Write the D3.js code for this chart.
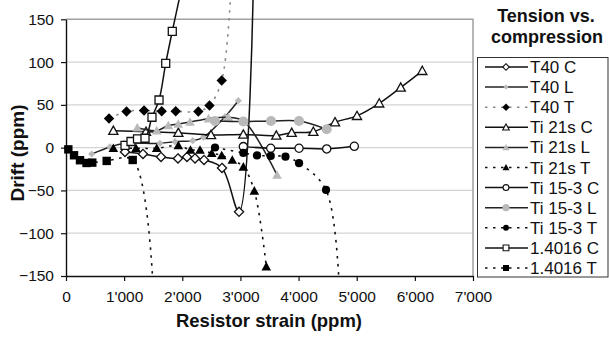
<!DOCTYPE html>
<html><head><meta charset="utf-8">
<script src="https://cdn.jsdelivr.net/npm/d3@7"></script>
<style>
body{margin:0;background:#fff;}
svg{display:block;font-family:"Liberation Sans",Arial,Helvetica,sans-serif;}
</style></head>
<body><svg id="c" width="609" height="337"></svg>
<script>
// ---- data (resistor strain ppm, drift ppm) ----
const seriesNames = ["T40 C","T40 L","T40 T","Ti 21s C","Ti 21s L","Ti 21s T","Ti 15-3 C","Ti 15-3 L","Ti 15-3 T","1.4016 C","1.4016 T"];
const T40_C = [[1015,-5],[1324,-7.4],[1634,-10.9],[1926,-12.6],[2081,-10.9],[2219,-12.6],[2374,-14.4],[2683,-23.7],[2976,-75],[3225,200]];
const T40_L = [[442,-7.4],[757,0.8],[998,4.9],[1617,5.1],[1875,7],[2179,8.2],[2362,12.1],[2735,36.2],[2963,54.9]];
const T40_T = [[740,34],[1041,42.3],[1342,43.4],[1646,42.5],[1887,42.5],[2276,42.3],[2468,49.3],[2678,78.4],[2840,190]];
const TI21_C = [[814,19.8],[1376,18.7],[1932,17.5],[2494,14.8],[3050,15.4],[3617,14.2],[3882,17.5],[4254,18.7],[4627,29.8],[5005,37.2],[5387,51.8],[5757,70.3],[6128,89.8]];
const TI21_L = [[1226,23.3],[1560,20],[1760,25.9],[1931,27.7],[2133,30],[2451,33.9],[2792,35.5],[3062,30.6],[3629,-31.9]];
const TI21_T = [[814,-0.7],[1204,-0.7],[1560,-0.7],[1932,2.6],[2141,-2.7],[2305,-2.7],[2506,-6.5],[2678,-9.1],[2860,-14.4],[3050,-22.5],[3239,-50.5],[3445,-139]];
const TI153_C = [[3050,1.2],[3521,-0.7],[4008,-0.7],[4484,-1.5],[4959,1.6]];
const TI153_L = [[2563,31.2],[3050,30.6],[3526,31.2],[4008,31.2],[4484,21.5]];
const TI153_T = [[2563,0.2],[3050,-6.2],[3285,-9.1],[3521,-9.7],[3775,-10.5],[4008,-18.2],[4472,-49.4],[4720,-200]];
const S14016_C = [[1015,2.6],[1118,7.2],[1230,10.2],[1359,11],[1479,35.5],[1600,55.7],[1715,98.5],[1828,136],[2000,190]];
const S14016_T = [[40,-2],[138,-8.9],[241,-14.7],[353,-17.9],[452,-17.5],[700,-15.5],[1147,-14.4],[1510,-180]];
// points beyond the axis range only continue the line; no marker is drawn there
const xTicks = [0,1000,2000,3000,4000,5000,6000,7000];
const yTicks = [-150,-100,-50,0,50,100,150];
const xTitle = "Resistor strain (ppm)";
const yTitle = "Drift (ppm)";
const legendTitle = ["Tension vs.","compression"];

const GREY = "#b9b9b9";
const styles = [
  {data:T40_C,  m:"diamond", fill:"#fff", stroke:"#111", s:4.6, dash:null, lc:"#111"},
  {data:T40_L,  m:"diamond", fill:GREY,  stroke:"none", s:3.6, dash:null, lc:"#222"},
  {data:T40_T,  m:"diamond", fill:"#000", stroke:"none", s:5.2, dash:"2.5,5.5", lc:"#8a8a8a"},
  {data:TI21_C, m:"triangle",fill:"#fff", stroke:"#111", s:4.6, dash:null, lc:"#111"},
  {data:TI21_L, m:"triangle",fill:GREY,  stroke:"none", s:4.8, dash:null, lc:"#222"},
  {data:TI21_T, m:"triangle",fill:"#000", stroke:"none", s:4.8, dash:"2.5,5.5", lc:"#111"},
  {data:TI153_C,m:"circle",  fill:"#fff", stroke:"#111", s:4.1, dash:null, lc:"#111"},
  {data:TI153_L,m:"circle",  fill:GREY,  stroke:"none", s:5.0, dash:null, lc:"#222"},
  {data:TI153_T,m:"circle",  fill:"#000", stroke:"none", s:4.1, dash:"2.5,5.5", lc:"#111"},
  {data:S14016_C,m:"square", fill:"#fff", stroke:"#111", s:4.0, dash:null, lc:"#111"},
  {data:S14016_T,m:"square", fill:"#000", stroke:"none", s:4.2, dash:"2.5,5.5", lc:"#111"}
];

const svg = d3.select("#c");
const x = d3.scaleLinear().domain([0,7000]).range([66,473]);
const y = d3.scaleLinear().domain([-150,150]).range([276,19.3]);

// gridlines
svg.append("g").selectAll("line").data(yTicks.filter(v=>v>-150 && v<150)).join("line")
  .attr("x1",x(0)).attr("x2",x(7000)).attr("y1",d=>y(d)).attr("y2",d=>y(d))
  .attr("stroke","#d4d4d4").attr("stroke-width",1.3);
// plot border top/right
svg.append("path").attr("d",`M${x(0)},${y(150)}H${x(7000)}V${y(-150)}`)
  .attr("fill","none").attr("stroke","#a0a0a0").attr("stroke-width",1.5);

// axes
const fmt = d => d===0 ? "0" : d3.format(",")(d).replace(/,/g,"'");
const xa = svg.append("g").attr("transform",`translate(0,${y(-150)})`)
  .call(d3.axisBottom(x).tickValues(xTicks).tickFormat(fmt).tickSize(5).tickPadding(9.5).tickSizeOuter(0));
const ya = svg.append("g").attr("transform",`translate(${x(0)},0)`)
  .call(d3.axisLeft(y).tickValues(yTicks).tickSize(5).tickPadding(7).tickSizeOuter(0));
[xa,ya].forEach(a=>{
  a.select(".domain").attr("stroke","#111").attr("stroke-width",1.4);
  a.selectAll(".tick line").attr("stroke","#111").attr("stroke-width",1.2);
  a.selectAll("text").attr("font-size",15.5).attr("fill","#111").attr("font-family",null);
});

// titles
svg.append("text").attr("x",269).attr("y",327).attr("text-anchor","middle")
  .attr("font-size",18.5).attr("font-weight","bold").attr("fill","#111").text(xTitle);
svg.append("text").attr("transform","translate(24,153) rotate(-90)").attr("text-anchor","middle")
  .attr("font-size",19).attr("font-weight","bold").attr("fill","#111").text(yTitle);

// clip so lines stop at the bottom axis
svg.append("clipPath").attr("id","clip").append("rect")
  .attr("x",0).attr("y",0).attr("width",609).attr("height",y(-150)+3);

function markerPath(m,s){
  if(m==="diamond") return `M0,${-s}L${s},0L0,${s}L${-s},0Z`;
  if(m==="triangle") return `M0,${-s}L${s},${s*0.8}L${-s},${s*0.8}Z`;
  if(m==="square") return `M${-s},${-s}H${s}V${s}H${-s}Z`;
  return d3.arc()({innerRadius:0,outerRadius:s,startAngle:0,endAngle:2*Math.PI});
}

const line = d3.line().x(d=>x(d[0])).y(d=>y(d[1])).curve(d3.curveCatmullRom.alpha(0.5));
const gLines = svg.append("g").attr("clip-path","url(#clip)");
styles.forEach(st=>{
  const g = gLines.append("g");
  g.append("path").attr("d",line(st.data)).attr("fill","none")
    .attr("stroke",st.lc).attr("stroke-width",st.dash?1.6:1.5)
    .attr("stroke-dasharray",st.dash);
  g.selectAll("path.m").data(st.data.filter(d=>d[1]>=-150 && d[1]<=150)).join("path").attr("class","m")
    .attr("transform",d=>`translate(${x(d[0])},${y(d[1])})`)
    .attr("d",markerPath(st.m,st.s)).attr("fill",st.fill)
    .attr("stroke",st.stroke).attr("stroke-width",1.3);
});

// legend
svg.append("text").attr("x",546).attr("y",22).attr("text-anchor","middle")
  .attr("font-size",18).attr("font-weight","bold").attr("fill","#111").text(legendTitle[0]);
svg.append("text").attr("x",547).attr("y",43).attr("text-anchor","middle")
  .attr("font-size",18).attr("font-weight","bold").attr("fill","#111").text(legendTitle[1]);
svg.append("rect").attr("x",477.5).attr("y",57.5).attr("width",130.5).attr("height",219.5)
  .attr("fill","#fff").attr("stroke","#333").attr("stroke-width",1);
const lg = svg.append("g").selectAll("g").data(styles).join("g")
  .attr("transform",(d,i)=>`translate(0,${67+i*20.1})`);
lg.append("line").attr("x1",485).attr("x2",528).attr("y1",0).attr("y2",0)
  .attr("stroke",d=>d.lc).attr("stroke-width",1.5).attr("stroke-dasharray",d=>d.dash);
lg.append("path").attr("transform","translate(506,0)")
  .attr("d",d=>markerPath(d.m,d.s*0.72)).attr("fill",d=>d.fill)
  .attr("stroke",d=>d.stroke).attr("stroke-width",1.1);
lg.append("text").attr("x",530).attr("y",6).attr("font-size",17).attr("fill","#111")
  .text((d,i)=>seriesNames[i]);
</script></body></html>
